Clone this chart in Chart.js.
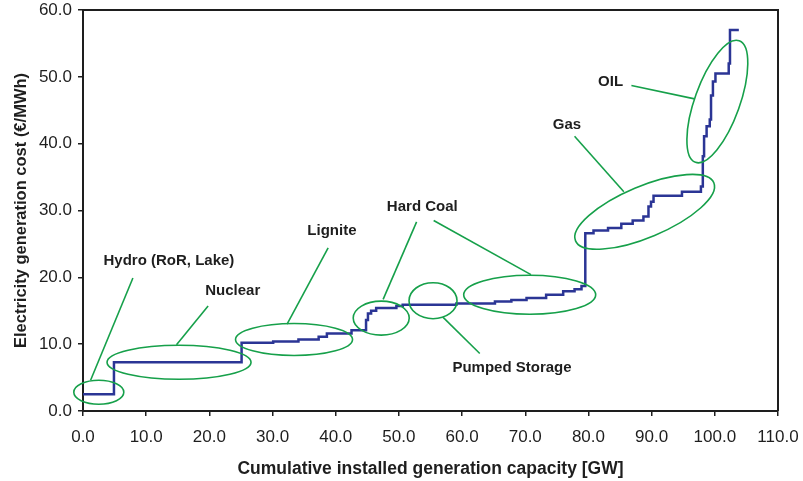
<!DOCTYPE html>
<html>
<head>
<meta charset="utf-8">
<script src="https://cdn.jsdelivr.net/npm/chart.js@4.4.1/dist/chart.umd.min.js"></script>
<style>
  html, body { margin: 0; padding: 0; background: #fff; }
</style>
</head>
<body>
<canvas id="chart" width="803" height="481"></canvas>
<script>
// Merit order curve: each block starts at capacity[i] (GW) and costs cost[i] (EUR/MWh)
var capacity = [0, 4.9, 25.1, 30.1, 34.1, 37.3, 38.6, 42.5, 44.8, 45.1, 45.6, 46.4, 49.6, 50.6,
  59.1, 65.2, 67.8, 70.2, 73.3, 76.0, 77.8, 78.9, 79.5, 80.8, 83.1, 85.2, 87.0, 88.7,
  89.5, 89.9, 90.3, 94.8, 97.8, 98.1, 98.3, 98.7, 99.2, 99.4, 99.7, 100.1, 102.2, 102.4, 103.8];
var cost = [2.5, 7.3, 10.2, 10.4, 10.7, 11.1, 11.6, 12.1, 13.6, 14.6, 15.0, 15.4, 15.7, 15.9,
  16.1, 16.4, 16.6, 16.9, 17.4, 17.9, 18.2, 18.7, 26.6, 27.0, 27.4, 28.0, 28.5, 29.1,
  30.6, 31.3, 32.2, 32.8, 33.6, 38.1, 41.1, 42.6, 43.6, 47.2, 49.3, 50.5, 52.0, 57.0, 57.0];

// Technology labels, anchored in data units
var techLabels = [
  { text: 'Hydro (RoR, Lake)', x: 13.6, y: 22.5 },
  { text: 'Nuclear', x: 23.7, y: 18.0 },
  { text: 'Lignite', x: 39.4, y: 26.9 },
  { text: 'Hard Coal', x: 53.7, y: 30.6 },
  { text: 'Pumped Storage', x: 67.9, y: 6.4 },
  { text: 'Gas', x: 76.6, y: 42.8 },
  { text: 'OIL', x: 83.5, y: 49.3 }
];

// leader lines from label to ring [x1, y1, x2, y2]
var leaders = [
  [7.9, 19.9, 1.2, 4.6],
  [19.8, 15.7, 14.8, 9.9],
  [38.8, 24.4, 32.3, 13.0],
  [52.8, 28.3, 47.5, 16.7],
  [55.5, 28.5, 70.9, 20.4],
  [57.0, 14.0, 62.8, 8.6],
  [77.8, 41.1, 85.6, 32.8],
  [86.8, 48.7, 96.8, 46.7]
];

// rings: centre in data units, radii in px, rotation in degrees
var rings = [
  { x: 2.5, y: 2.8, rx: 25, ry: 12, rot: 0 },
  { x: 15.2, y: 7.3, rx: 72, ry: 17, rot: 0 },
  { x: 33.4, y: 10.7, rx: 58.5, ry: 16, rot: 0 },
  { x: 47.2, y: 13.9, rx: 28, ry: 17, rot: 0 },
  { x: 55.4, y: 16.5, rx: 24, ry: 18, rot: 0 },
  { x: 70.7, y: 17.4, rx: 66, ry: 19.5, rot: 0 },
  { x: 88.9, y: 29.8, rx: 75, ry: 25.6, rot: -22.8 },
  { x: 100.4, y: 46.3, rx: 64.6, ry: 22.5, rot: -70.2 }
];

var INK = '#1e1e1e';
var GREEN = '#16a04a';
var BLUE = '#2b3595';

var points = capacity.map(function (c, i) { return { x: c, y: cost[i] }; });

var annotate = {
  id: 'annotate',
  afterDatasetsDraw: function (chart) {
    var ctx = chart.ctx, xs = chart.scales.x, ys = chart.scales.y, a = chart.chartArea;
    ctx.save();

    // top and right frame
    ctx.strokeStyle = INK;
    ctx.lineWidth = 2;
    ctx.beginPath();
    ctx.moveTo(a.left, a.top);
    ctx.lineTo(a.right, a.top);
    ctx.lineTo(a.right, a.bottom);
    ctx.stroke();

    ctx.strokeStyle = GREEN;
    ctx.lineWidth = 1.6;
    rings.forEach(function (r) {
      ctx.beginPath();
      ctx.ellipse(xs.getPixelForValue(r.x), ys.getPixelForValue(r.y), r.rx, r.ry, r.rot * Math.PI / 180, 0, 2 * Math.PI);
      ctx.stroke();
    });
    leaders.forEach(function (l) {
      ctx.beginPath();
      ctx.moveTo(xs.getPixelForValue(l[0]), ys.getPixelForValue(l[1]));
      ctx.lineTo(xs.getPixelForValue(l[2]), ys.getPixelForValue(l[3]));
      ctx.stroke();
    });

    ctx.fillStyle = INK;
    ctx.font = 'bold 15px "Liberation Sans", Arial, sans-serif';
    ctx.textAlign = 'center';
    ctx.textBaseline = 'middle';
    techLabels.forEach(function (t) {
      ctx.fillText(t.text, xs.getPixelForValue(t.x), ys.getPixelForValue(t.y));
    });
    ctx.restore();
  }
};

var tickFont = { family: '"Liberation Sans", Arial, sans-serif', size: 17 };

new Chart(document.getElementById('chart'), {
  type: 'line',
  data: {
    datasets: [{
      data: points,
      stepped: true,
      borderColor: BLUE,
      borderWidth: 2.5,
      pointRadius: 0,
      fill: false
    }]
  },
  options: {
    responsive: false,
    animation: false,
    layout: { padding: { top: 10, right: 25, left: 0, bottom: 0 } },
    plugins: { legend: { display: false }, tooltip: { enabled: false } },
    scales: {
      x: {
        type: 'linear',
        min: 0,
        max: 110,
        ticks: { stepSize: 10, color: INK, font: tickFont, padding: 11, maxRotation: 0,
          callback: function (v) { return v.toFixed(1); } },
        grid: { drawOnChartArea: false, color: INK, tickLength: 5, lineWidth: 1.5 },
        border: { color: INK, width: 2 },
        title: { display: true, text: 'Cumulative installed generation capacity [GW]', color: INK,
          font: { family: '"Liberation Sans", Arial, sans-serif', size: 17.5, weight: 'bold' },
          padding: { top: 0, bottom: 1 } },
        afterFit: function (s) {
          s.height = 70;
          s.paddingLeft = 0;
          s.paddingRight = 0;
        }
      },
      y: {
        min: 0,
        max: 60,
        ticks: { stepSize: 10, color: INK, font: tickFont, padding: 6,
          callback: function (v) { return v.toFixed(1); } },
        grid: { drawOnChartArea: false, color: INK, tickLength: 5, lineWidth: 1.5 },
        border: { color: INK, width: 2 },
        title: { display: true, text: 'Electricity generation cost (€/MWh)', color: INK,
          font: { family: '"Liberation Sans", Arial, sans-serif', size: 16.5, weight: 'bold' },
          padding: { top: 12, bottom: 0 } },
        afterFit: function (s) {
          s.width = 83;
          s.paddingTop = 0;
          s.paddingBottom = 0;
        }
      }
    }
  },
  plugins: [annotate]
});
</script>
</body>
</html>
